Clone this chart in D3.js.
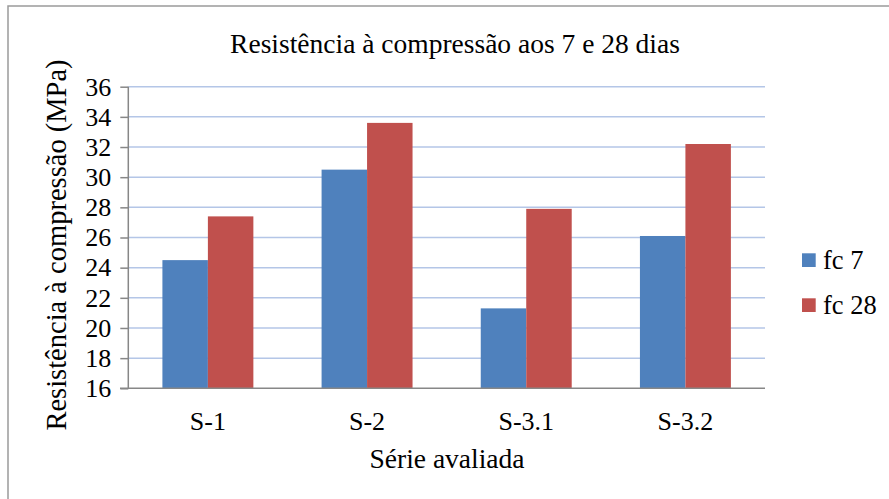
<!DOCTYPE html>
<html>
<head>
<meta charset="utf-8">
<script src="https://cdn.jsdelivr.net/npm/d3@7"></script>
</head>
<body style="margin:0">
<svg id="chart" width="889" height="499"></svg>
<script>
const categories = ["S-1", "S-2", "S-3.1", "S-3.2"];
const seriesNames = ["fc 7", "fc 28"];
const fc7 = [24.5, 30.5, 21.3, 26.1];
const fc28 = [27.4, 33.6, 27.9, 32.2];
const yTicks = [16, 18, 20, 22, 24, 26, 28, 30, 32, 34, 36];
const colors = ["#4F81BD", "#C0504D"];
const chartTitle = "Resistência à compressão aos 7 e 28 dias";
const xTitle = "Série avaliada";
const yTitle = "Resistência à compressão (MPa)";

const FONT = "'Liberation Serif', monospace";
const svg = d3.select("#chart");
const pLeft = 128.3, pRight = 765, pTop = 86.7, pBottom = 388.3;

// outer border (only top/left visible)
svg.append("rect").attr("x", 8).attr("y", 6).attr("width", 900).attr("height", 520)
  .attr("fill", "none").attr("stroke", "#9a9a9a").attr("stroke-width", 1.5);

const x0 = d3.scaleBand().domain(categories).range([pLeft, pRight]).paddingInner(0).paddingOuter(0);
const x1 = d3.scaleBand().domain(seriesNames)
  .range([0, x0.bandwidth()]).paddingInner(0).paddingOuter(0.75);
const y = d3.scaleLinear().domain([16, 36]).range([pBottom, pTop]);

// gridlines
svg.append("g").selectAll("line").data(yTicks.filter(t => t !== 16)).join("line")
  .attr("x1", pLeft).attr("x2", pRight)
  .attr("y1", d => y(d)).attr("y2", d => y(d))
  .attr("stroke", "#b4c6e7").attr("stroke-width", 1.5);

// bars
const data = categories.map((c, i) => ({ cat: c, vals: [fc7[i], fc28[i]] }));
const groups = svg.append("g").selectAll("g").data(data).join("g")
  .attr("transform", d => `translate(${x0(d.cat)},0)`);
groups.selectAll("rect").data(d => d.vals.map((v, j) => ({ v, s: seriesNames[j], j })))
  .join("rect")
  .attr("x", d => x1(d.s)).attr("width", x1.bandwidth())
  .attr("y", d => y(d.v)).attr("height", d => y(16) - y(d.v))
  .attr("fill", d => colors[d.j]);

// y axis
const yAxis = d3.axisLeft(y).tickValues(yTicks).tickSize(8).tickPadding(9).tickFormat(d3.format("d"));
const gy = svg.append("g").attr("transform", `translate(${pLeft},0)`).call(yAxis);
gy.attr("font-family", null).attr("font-size", 26);
gy.select(".domain").attr("stroke", "#878787").attr("stroke-width", 1.5).attr("d", `M0,${pTop}V${pBottom}`);
gy.selectAll(".tick line").attr("stroke", "#878787").attr("stroke-width", 1.5);
gy.selectAll(".tick text").style("font-family", FONT).attr("font-size", 26).attr("fill", "#000");

// x axis
const xAxis = d3.axisBottom(x0).tickSize(0).tickPadding(0);
const gx = svg.append("g").attr("transform", `translate(0,${pBottom})`).call(xAxis);
gx.attr("font-family", null).attr("font-size", 26);
gx.select(".domain").attr("stroke", "#878787").attr("stroke-width", 1.5).attr("d", `M120,0H${pRight}`);
gx.selectAll(".tick text").style("font-family", FONT).attr("font-size", 26).attr("fill", "#000")
  .attr("y", 430 - pBottom).attr("dy", 0);

// titles
svg.append("text").attr("x", 455).attr("y", 53).attr("text-anchor", "middle")
  .style("font-family", FONT).attr("font-size", 27.5).text(chartTitle);
svg.append("text").attr("x", 447).attr("y", 468).attr("text-anchor", "middle")
  .style("font-family", FONT).attr("font-size", 27.5).text(xTitle);
svg.append("text").attr("transform", "translate(66,245) rotate(-90)").attr("text-anchor", "middle")
  .style("font-family", FONT).attr("font-size", 28.5).text(yTitle);

// legend
const lg = svg.append("g").selectAll("g").data(seriesNames).join("g")
  .attr("transform", (d, i) => `translate(802,${253.3 + i * 45})`);
lg.append("rect").attr("width", 13.7).attr("height", 13.7).attr("fill", (d, i) => colors[i]);
lg.append("text").attr("x", 21).attr("y", 15.5)
  .style("font-family", FONT).attr("font-size", 26.5).text(d => d);
</script>
</body>
</html>
